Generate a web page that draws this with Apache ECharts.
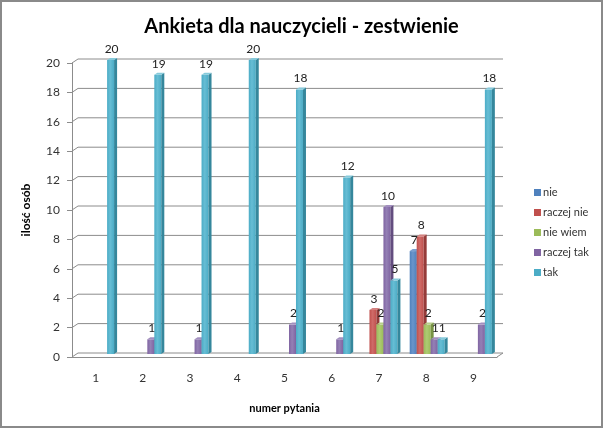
<!DOCTYPE html>
<html>
<head>
<meta charset="utf-8">
<script src="https://cdn.jsdelivr.net/npm/echarts@6/dist/echarts.min.js"></script>
<style>
  html, body { margin: 0; padding: 0; background: #fff; }
  #chart { width: 603px; height: 428px; }
</style>
</head>
<body>
<div id="chart"></div>
<script>
// numer pytania
const categories = ['1', '2', '3', '4', '5', '6', '7', '8', '9'];
const seriesNames = ['nie', 'raczej nie', 'nie wiem', 'raczej tak', 'tak'];
const nie       = [0, 0, 0, 0, 0, 0, 0, 7, 0];
const raczejNie = [0, 0, 0, 0, 0, 0, 3, 8, 0];
const nieWiem   = [0, 0, 0, 0, 0, 0, 2, 2, 0];
const raczejTak = [0, 1, 1, 0, 2, 1, 10, 1, 2];
const tak       = [20, 19, 19, 20, 18, 12, 5, 1, 18];
const yTicks = [0, 2, 4, 6, 8, 10, 12, 14, 16, 18, 20];

const values = [nie, raczejNie, nieWiem, raczejTak, tak];
const colors = ['#4F81BD', '#C0504D', '#9BBB59', '#8064A2', '#4BACC6'];
const lightColors = ['#6a95cb', '#cf6b68', '#aecb73', '#9480b5', '#67bdd4'];
const sideColors = ['#3a6596', '#953b39', '#789344', '#634d7f', '#35879c'];
const topColors = ['#7a9fd0', '#d4817f', '#b7d08a', '#a28ebf', '#86cadb'];

const DEPTH_X = 3, DEPTH_Y = 2, LIFT = 3;
const WALL_X = 6, WALL_Y = 4;
const FONT = 'Lato, "Liberation Sans", sans-serif';

const chart = echarts.init(document.getElementById('chart'));

// back wall grid lines with the little 3D slant on the left
const wallSeries = {
  type: 'custom',
  silent: true,
  z: 1,
  data: yTicks.map((v) => [0, v]),
  encode: { x: 0, y: 1 },
  renderItem: (params, api) => {
    const c = params.coordSys;
    const y = api.coord([0, api.value(1)])[1];
    const children = [{
      type: 'polyline',
      shape: { points: [[c.x, y], [c.x + WALL_X, y - WALL_Y], [c.x + c.width + WALL_X, y - WALL_Y]] },
      style: { stroke: '#8c8c8c', lineWidth: 1, fill: null }
    }];
    if (api.value(1) === 0) {
      children.push({
        type: 'line',
        shape: { x1: c.x + c.width, y1: y, x2: c.x + c.width + WALL_X, y2: y - WALL_Y },
        style: { stroke: '#8c8c8c', lineWidth: 1 }
      });
    }
    return { type: 'group', children: children };
  }
};

const barSeries = seriesNames.map((name, k) => ({
  name: name,
  type: 'custom',
  z: 3,
  itemStyle: { color: colors[k] },
  data: categories.map((c, i) => [i, values[k][i]]),
  encode: { x: 0, y: 1 },
  renderItem: (params, api) => {
    const v = api.value(1);
    if (!v) return null;
    const i = api.value(0);
    const base = api.coord([i, 0]);
    const top = api.coord([i, v]);
    const catW = api.size([1, 0])[0];
    const w = catW * 0.148;
    const x0 = base[0] - 2.5 * w + k * w + 1;
    const yt = top[1] - LIFT;
    const yb = base[1] - LIFT;
    return {
      type: 'group',
      children: [
        {
          type: 'rect',
          shape: { x: x0, y: yt, width: w, height: yb - yt },
          style: {
            fill: new echarts.graphic.LinearGradient(0, 0, 1, 0, [
              { offset: 0, color: colors[k] },
              { offset: 0.45, color: lightColors[k] },
              { offset: 1, color: colors[k] }
            ])
          }
        },
        {
          type: 'polygon',
          shape: { points: [[x0 + w, yt], [x0 + w + DEPTH_X, yt - DEPTH_Y], [x0 + w + DEPTH_X, yb - DEPTH_Y], [x0 + w, yb]] },
          style: { fill: sideColors[k] }
        },
        {
          type: 'polygon',
          shape: { points: [[x0, yt], [x0 + DEPTH_X, yt - DEPTH_Y], [x0 + w + DEPTH_X, yt - DEPTH_Y], [x0 + w, yt]] },
          style: { fill: topColors[k] }
        },
        {
          type: 'text',
          z2: 100,
          style: {
            text: String(v),
            x: x0 + w / 2 + 1,
            y: yt - 5,
            align: 'center',
            verticalAlign: 'bottom',
            font: '12px ' + FONT,
            fill: '#222'
          }
        }
      ]
    };
  }
}));

const option = {
  animation: false,
  backgroundColor: '#fff',
  title: {
    text: 'Ankieta dla nauczycieli - zestwienie',
    left: 'center',
    top: 12,
    textStyle: { fontFamily: FONT, fontSize: 20, fontWeight: 'bold', color: '#000' }
  },
  legend: {
    orient: 'vertical',
    left: 529,
    top: 182,
    itemWidth: 7,
    itemHeight: 7,
    itemGap: 9,
    icon: 'rect',
    data: seriesNames,
    textStyle: { fontFamily: FONT, fontSize: 11, color: '#333', padding: [0, 0, 0, -3] }
  },
  grid: { left: 72, right: 106, top: 63, bottom: 71 },
  xAxis: {
    type: 'category',
    data: categories,
    name: 'numer pytania',
    nameLocation: 'middle',
    nameGap: 46,
    nameTextStyle: { fontFamily: FONT, fontSize: 11, fontWeight: 'bold', color: '#000' },
    axisLine: { lineStyle: { color: '#8c8c8c' } },
    axisTick: { length: 5, lineStyle: { color: '#8c8c8c' } },
    axisLabel: { fontFamily: FONT, fontSize: 12, color: '#333', margin: 15 },
    splitLine: { show: false }
  },
  yAxis: {
    type: 'value',
    min: 0,
    max: 20,
    interval: 2,
    name: 'ilość osób',
    nameLocation: 'middle',
    nameGap: 40,
    nameTextStyle: { fontFamily: FONT, fontSize: 12, fontWeight: 'bold', color: '#000' },
    axisLine: { show: true, lineStyle: { color: '#8c8c8c' } },
    axisTick: { show: true, length: 5, lineStyle: { color: '#8c8c8c' } },
    axisLabel: { fontFamily: FONT, fontSize: 12, color: '#333', margin: 12 },
    splitLine: { show: false }
  },
  graphic: [{
    type: 'rect',
    silent: true,
    shape: { x: 1, y: 1, width: 601, height: 426 },
    style: { fill: null, stroke: '#8a8a8a', lineWidth: 2 }
  }],
  series: [wallSeries].concat(barSeries)
};

chart.setOption(option);
</script>
</body>
</html>
